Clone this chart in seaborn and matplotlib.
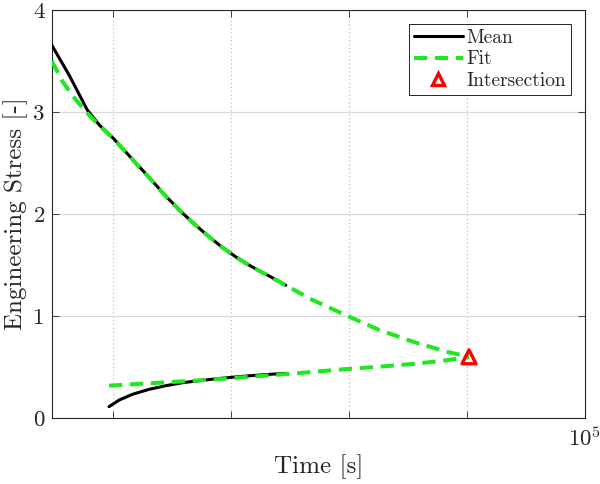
import numpy as np
import pandas as pd
import matplotlib
matplotlib.use("Agg")
import matplotlib.pyplot as plt
import matplotlib.ticker as mticker
from matplotlib.lines import Line2D
import seaborn as sns

# ---- data ----
mean_upper_t = [3.0, 4.21, 6.01, 7.6, 10, 14.5, 20, 28, 40, 57, 80, 110, 150, 210, 290]
mean_upper_y = [3.657, 3.363, 3.020, 2.873, 2.742, 2.537, 2.362, 2.172, 1.992, 1.832, 1.692, 1.577, 1.482, 1.392, 1.302]

fit_upper_t = [3.0, 3.7, 4.8, 6.0, 7.6, 10, 14.5, 20, 28, 40, 57, 80, 110, 150, 210,
               290, 490, 970, 1800, 3470, 6670, 10380]
fit_upper_y = [3.50, 3.30, 3.12, 2.99, 2.865, 2.74, 2.535, 2.36, 2.17, 1.99, 1.83, 1.69, 1.575, 1.48, 1.39,
               1.30, 1.157, 1.000, 0.863, 0.748, 0.650, 0.600]

mean_lower_t = [9.19, 11.2, 14.5, 20.1, 27.9, 38.5, 53.5, 74.1, 102.6, 142.3, 197.2, 290]
mean_lower_y = [0.111, 0.176, 0.232, 0.281, 0.317, 0.346, 0.366, 0.384, 0.400, 0.414, 0.426, 0.438]

fit_lower_t = [9.19, 20.1, 44.0, 96.2, 197.2, 354.6, 942, 1808, 3467, 6668, 10380]
fit_lower_y = [0.317, 0.340, 0.363, 0.389, 0.416, 0.438, 0.480, 0.503, 0.530, 0.565, 0.600]

inter_t = [10380]
inter_y = [0.600]

x_ticks = [10, 100, 1000, 10000, 100000]
x_tick_labels = ["", "", "", "", r"$10^{5}$"]
y_ticks = [0, 1, 2, 3, 4]

sns.set_style("white")
plt.rcParams["font.family"] = ["cmr10", "DejaVu Serif"]
plt.rcParams["mathtext.fontset"] = "cm"
plt.rcParams["axes.formatter.use_mathtext"] = True

fig = plt.figure(figsize=(6.0, 4.84), dpi=100)
ax = fig.add_axes([51.7 / 600, 1 - 418 / 484, 533.3 / 600, 408 / 484])

green = "#22e622"
dash = (0, (3.3, 1.9))
sns.lineplot(x=mean_upper_t, y=mean_upper_y, ax=ax, color="black", lw=2.2,
             sort=False, estimator=None, zorder=3)
sns.lineplot(x=mean_lower_t, y=mean_lower_y, ax=ax, color="black", lw=2.2,
             sort=False, estimator=None, zorder=3)
sns.lineplot(x=fit_upper_t, y=fit_upper_y, ax=ax, color=green, lw=2.9,
             linestyle=dash, sort=False, estimator=None, zorder=4)
sns.lineplot(x=fit_lower_t, y=fit_lower_y, ax=ax, color=green, lw=2.9,
             linestyle=dash, sort=False, estimator=None, zorder=4)
ax.scatter(inter_t, inter_y, marker="^", s=100, facecolors="none",
           edgecolors="red", linewidths=2.4, zorder=5)

ax.set_xscale("log")
ax.set_xlim(3.0, 1e5)
ax.set_ylim(0, 4)
ax.xaxis.set_major_locator(mticker.FixedLocator(x_ticks))
ax.xaxis.set_major_formatter(mticker.FixedFormatter(x_tick_labels))
ax.xaxis.set_minor_locator(mticker.NullLocator())
ax.set_yticks(y_ticks)
ax.set_yticklabels([str(v) for v in y_ticks])

ax.grid(axis="y", color="#dadada", linestyle="-", linewidth=0.9)
ax.grid(axis="x", color="#b8b8b8", linestyle=(0, (1, 2.5)), linewidth=0.8)
ax.set_axisbelow(True)

for s in ax.spines.values():
    s.set_visible(True)
    s.set_color("#262626")
    s.set_linewidth(0.8)

ax.tick_params(direction="in", length=5, width=0.6, colors="#262626",
               labelsize=16.5, top=True, right=True, bottom=True, left=True,
               labelcolor="#262626")
ax.tick_params(axis="y", pad=5)
ax.tick_params(axis="x", pad=6)
for lbl in ax.get_xticklabels():
    lbl.set_horizontalalignment("right")
    lbl.set_x(0)
ax.get_xticklabels()[-1].set_horizontalalignment("center")

ax.set_xlabel("Time [s]", fontsize=18, color="#262626", labelpad=3)
ax.set_ylabel("Engineering Stress [-]", fontsize=18, color="#262626", labelpad=4)

handles = [
    Line2D([], [], color="black", lw=2.2),
    Line2D([], [], color=green, lw=2.9, linestyle=dash),
    Line2D([], [], color="red", marker="^", markersize=9, markerfacecolor="none",
           markeredgewidth=2.4, linestyle="none"),
]
leg = ax.legend(handles, ["Mean", "Fit", "Intersection"], loc="upper right",
                bbox_to_anchor=(0.974, 0.966), fontsize=14, frameon=True,
                fancybox=False, framealpha=1, edgecolor="#262626",
                handlelength=2.5, handletextpad=0.2, borderpad=0.25,
                labelspacing=0.2, borderaxespad=0)
leg.get_frame().set_linewidth(0.7)

fig.savefig("out.png", dpi=100)
